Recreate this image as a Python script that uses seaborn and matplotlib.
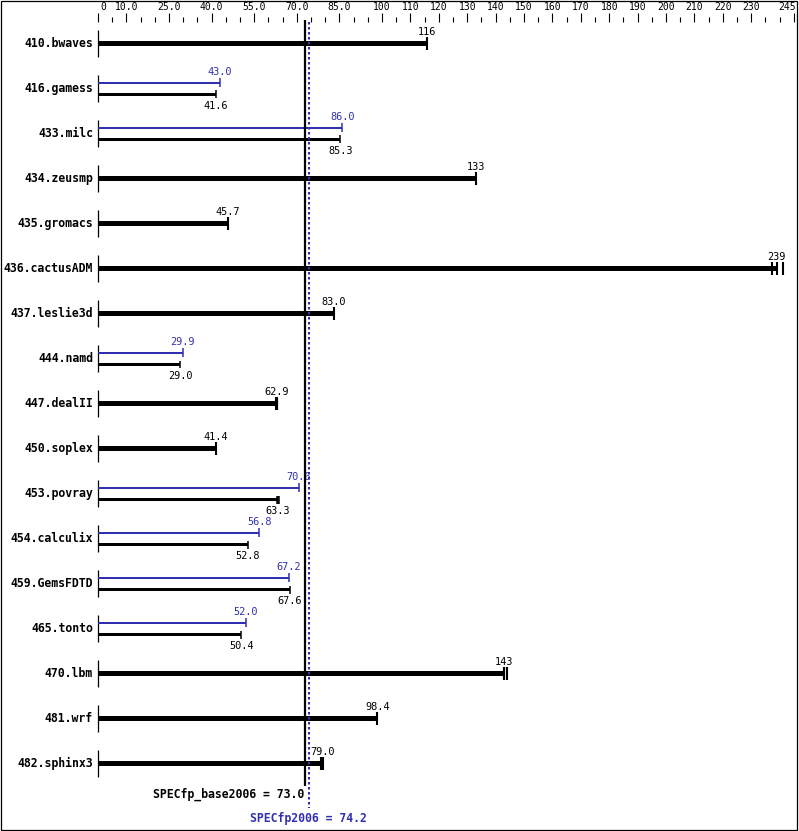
import numpy as np
import pandas as pd
import matplotlib
matplotlib.use("Agg")
import matplotlib.pyplot as plt
from matplotlib.patches import Rectangle
import seaborn as sns

# benchmark results
benchmarks = ['410.bwaves', '416.gamess', '433.milc', '434.zeusmp', '435.gromacs',
              '436.cactusADM', '437.leslie3d', '444.namd', '447.dealII', '450.soplex',
              '453.povray', '454.calculix', '459.GemsFDTD', '465.tonto', '470.lbm',
              '481.wrf', '482.sphinx3']
base = [116, 41.6, 85.3, 133, 45.7, 239, 83.0, 29.0, 62.9, 41.4,
        63.3, 52.8, 67.6, 50.4, 143, 98.4, 79.0]
peak = [None, 43.0, 86.0, None, None, None, None, 29.9, None, None,
        70.6, 56.8, 67.2, 52.0, None, None, None]
# spread of the individual base runs (shown as extra end ticks)
base_run_min = [116, 41.6, 85.3, 133, 45.7, 237.2, 83.0, 29.0, 62.7, 41.4,
                63.0, 52.8, 67.6, 50.4, 142.9, 98.4, 78.5]
base_run_max = [116, 41.6, 85.3, 133, 45.7, 241.2, 83.0, 29.0, 63.1, 41.4,
                63.6, 52.8, 67.6, 50.4, 143.9, 98.4, 79.3]

base_mean = 73.0
peak_mean = 74.2
base_label = 'SPECfp_base2006 = 73.0'
peak_label = 'SPECfp2006 = 74.2'

major_ticks = [0, 10, 25, 40, 55, 70, 85, 100, 110, 120, 130, 140, 150, 160,
               170, 180, 190, 200, 210, 220, 230, 245]
major_labels = ['0', '10.0', '25.0', '40.0', '55.0', '70.0', '85.0', '100', '110',
                '120', '130', '140', '150', '160', '170', '180', '190', '200',
                '210', '220', '230', '245']

BLUE = '#3030b0'
MONO = ['DejaVu Sans Mono']

df = pd.DataFrame({'benchmark': benchmarks, 'base': base, 'peak': peak,
                   'lo': base_run_min, 'hi': base_run_max})
df['row'] = np.arange(len(df))
df['has_peak'] = df['peak'].notna()

sns.set_theme(style='white')
plt.rcParams['font.family'] = MONO

W, H = 799, 831
fig = plt.figure(figsize=(W / 100, H / 100), dpi=100)
ax = fig.add_axes([0, 0, 1, 1])
ax.axis('off')

# pixel geometry: value 0 at x=98, 2.84 px per unit; rows every 45 px from y=43.7
px_unit = 2.84
ax.set_xlim(-98 / px_unit, (W - 98) / px_unit)
ax.set_ylim((H - 43.7) / 45, -43.7 / 45)
r = 1 / 45  # one pixel in row units


def fmt(v):
    return f"{v:.0f}" if v >= 100 else f"{v:.1f}"


# single (base only) rows: thick bars
single = df[~df['has_peak']]
ax.barh(single['row'], single['base'], height=5.2 * r, color='black', lw=0, zorder=3)
for _, s in single.iterrows():
    for v in sorted({s['lo'], s['base'], s['hi']}):
        ax.vlines(v, s['row'] - 6.5 * r, s['row'] + 6.5 * r, color='black', lw=1.5, zorder=3)
    ax.text(s['base'], s['row'] - 11.5 * r, fmt(s['base']),
            ha='center', va='center', fontsize=7.4, color='black', zorder=4)
    ax.vlines(0, s['row'] - 13.5 * r, s['row'] + 13.5 * r, color='black', lw=0.9)

# rows with a separate peak result: thin blue (peak) above thin black (base)
dual = df[df['has_peak']]
ax.barh(dual['row'] - 5.8 * r, dual['peak'], height=2.4 * r, color=BLUE, lw=0, zorder=3)
ax.barh(dual['row'] + 5.8 * r, dual['base'], height=2.4 * r, color='black', lw=0, zorder=3)
for _, d in dual.iterrows():
    ax.vlines(d['peak'], d['row'] - 5.8 * r - 4.5 * r, d['row'] - 5.8 * r + 4.5 * r,
              color=BLUE, lw=1.1, zorder=3)
    for v in sorted({d['lo'], d['base'], d['hi']}):
        ax.vlines(v, d['row'] + 5.8 * r - 4 * r, d['row'] + 5.8 * r + 4 * r,
                  color='black', lw=1.1, zorder=3)
    ax.text(d['peak'], d['row'] - 16.5 * r, fmt(d['peak']), ha='center', va='center',
            fontsize=7.4, color=BLUE, zorder=4)
    ax.text(d['base'], d['row'] + 17.5 * r, fmt(d['base']), ha='center', va='center',
            fontsize=7.4, color='black', zorder=4)
    ax.vlines(0, d['row'] - 13.5 * r, d['row'] + 13.5 * r, color='black', lw=0.9)

# benchmark names
for _, b in df.iterrows():
    ax.text(-5 / px_unit, b['row'], b['benchmark'], ha='right', va='center',
            fontsize=8.3, fontweight='bold', color='black')

# overall means
ax.vlines(base_mean, -23.7 * r, 742.5 * r, color='black', lw=1.6, zorder=5)
ax.vlines(peak_mean, -21.7 * r, 764.5 * r, color=BLUE, lw=1.5,
          linestyles=(0, (1.2, 1.2)), zorder=5)
ax.text(base_mean - 0.5, 750.5 * r, base_label, ha='right', va='center',
        fontsize=8.3, fontweight='bold', color='black')
ax.text(peak_mean, 774.5 * r, peak_label, ha='center', va='center',
        fontsize=8.3, fontweight='bold', color=BLUE)

# scale along the top
minor_ticks = [v for v in range(5, 245, 5) if v not in major_ticks]
ax.vlines(major_ticks, -30.7 * r, -21.7 * r, color='black', lw=0.8)
ax.vlines(minor_ticks, -26.2 * r, -21.7 * r, color='black', lw=0.8)
for v, lab in zip(major_ticks, major_labels):
    ha = 'center'
    x = v
    if v == 0:
        ha, x = 'left', v + 0.8
    elif v == major_ticks[-1]:
        ha, x = 'right', v + 0.8
    ax.text(x, -36.5 * r, lab, ha=ha, va='center', fontsize=7, color='black')

# frame round the whole picture
fig.patches.append(Rectangle((0.5, 1.5), W - 3, H - 2, transform=None, fill=False,
                             edgecolor='black', lw=0.9))

fig.savefig('out.png', dpi=100)
